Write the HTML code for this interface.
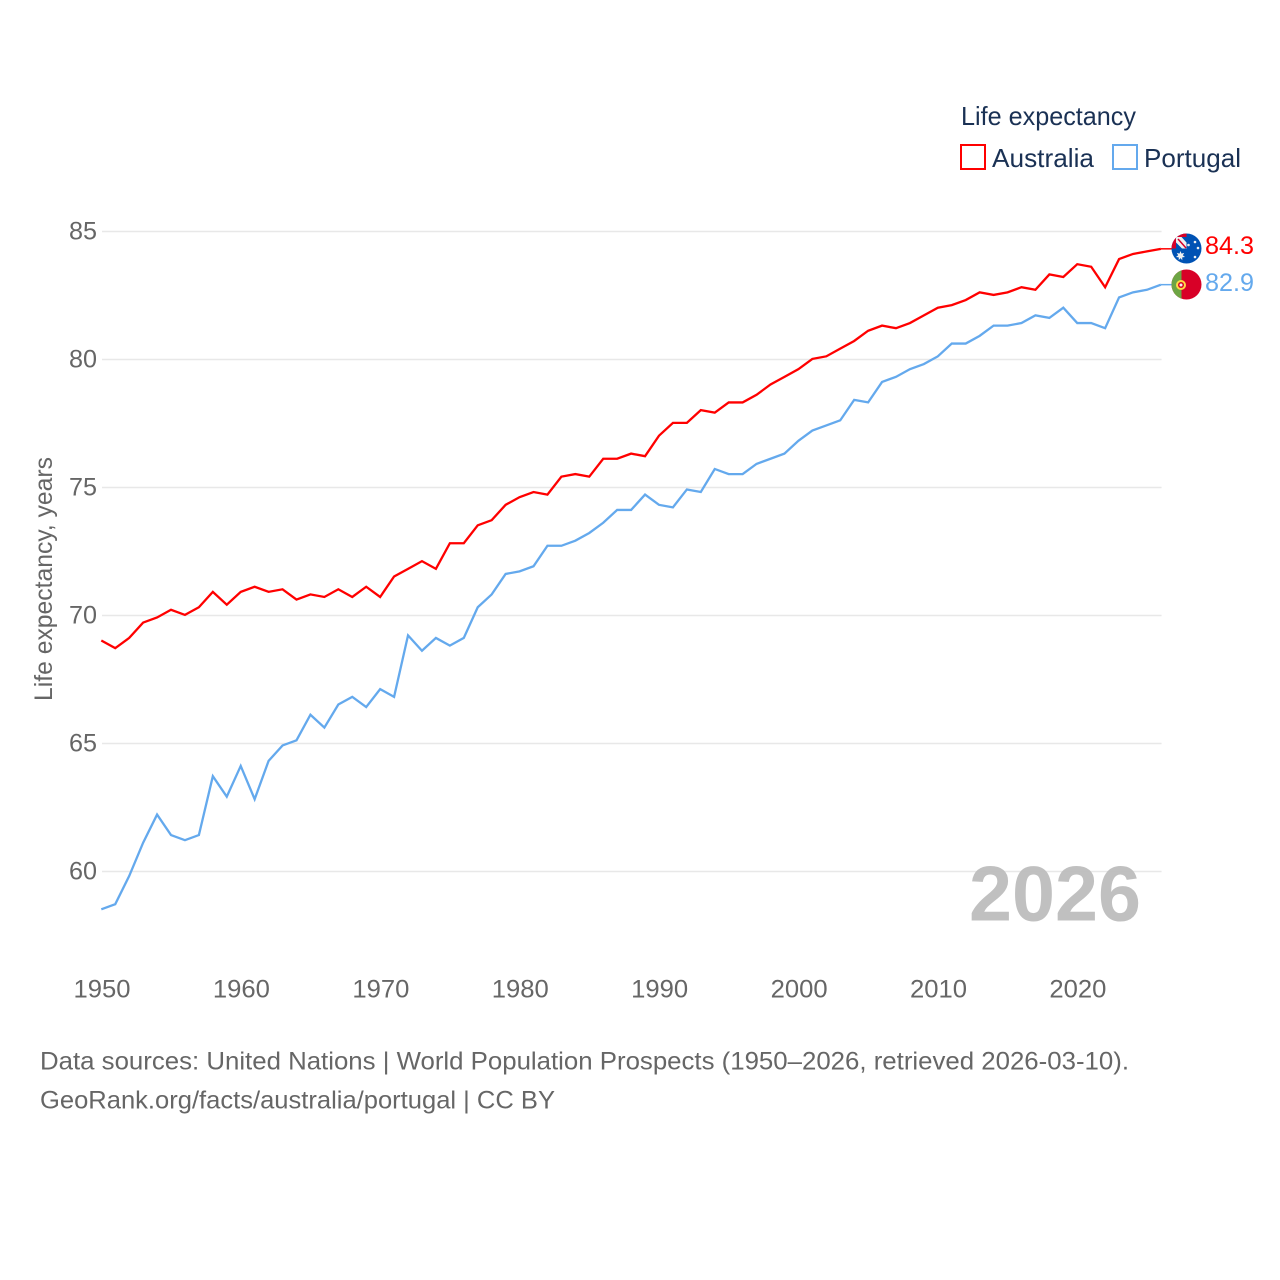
<!DOCTYPE html>
<html lang="en">
<head>
<meta charset="utf-8">
<title>Life expectancy: Australia and Portugal</title>
<style>
html,body{margin:0;padding:0;background:#fff}
svg{display:block}
text{font-family:"Liberation Sans",sans-serif}
</style>
</head>
<body>
<svg id="chart" xmlns="http://www.w3.org/2000/svg" width="1280" height="1280" viewBox="0 0 1280 1280">
  <rect x="0" y="0" width="1280" height="1280" fill="#ffffff"/>
  <g id="grid"></g>
  <g id="yticks"></g>
  <g id="xticks"></g>
  <text transform="translate(52,701) rotate(-90)" font-size="25" fill="#666666" textLength="244" lengthAdjust="spacingAndGlyphs">Life expectancy, years</text>
  <text x="969" y="920.5" font-size="78" font-weight="700" fill="#bdbdbd" fill-opacity="0.95" textLength="172" lengthAdjust="spacingAndGlyphs">2026</text>
  <g id="series"></g>

  <g>
    <text x="961" y="125" font-size="26" fill="#1a3154" textLength="175" lengthAdjust="spacingAndGlyphs">Life expectancy</text>
    <g>
      <rect x="961" y="145" width="24" height="24" fill="none" stroke="#ff0000" stroke-width="2"/>
      <text x="992" y="167" font-size="26" fill="#1a3154" textLength="102" lengthAdjust="spacingAndGlyphs">Australia</text>
    </g>
    <g>
      <rect x="1113" y="145" width="24" height="24" fill="none" stroke="#64a9ed" stroke-width="2"/>
      <text x="1144" y="167" font-size="26" fill="#1a3154" textLength="97" lengthAdjust="spacingAndGlyphs">Portugal</text>
    </g>
  </g>

  <defs>
    <clipPath id="clip-au"><circle cx="1186.5" cy="248.5" r="15"/></clipPath>
    <clipPath id="clip-pt"><circle cx="1186.5" cy="284.5" r="15"/></clipPath>
  </defs>
  <g clip-path="url(#clip-au)">
    <rect x="1171" y="233" width="31" height="31" fill="#0052b4"/>
    <rect x="1171" y="233" width="15.5" height="15.5" fill="#d80027"/>
    <rect x="1176" y="237" width="10.5" height="11.5" fill="#f0f0f0"/>
    <path d="M1176 242.500L1176 248.500L1182 248.500Z" fill="#0052b4"/>
    <path d="M1181.500 237L1186.500 237L1186.500 242.500Z" fill="#0052b4"/>
    <path d="M1178 239l8 9" stroke="#d80027" stroke-width="1.500" fill="none"/>
    <path d="M1180.500 251l1 2.600 2.700-.7-1.400 2.400 2.200 1.700-2.800.4.100 2.800-1.800-2.100-1.800 2.100.100-2.800-2.800-.4 2.200-1.700-1.400-2.400 2.700.7z" fill="#f0f0f0"/>
    <circle cx="1195" cy="242" r="1.300" fill="#f0f0f0"/>
    <circle cx="1188.500" cy="245" r="1.300" fill="#f0f0f0"/>
    <circle cx="1198" cy="248" r="1.300" fill="#f0f0f0"/>
    <circle cx="1195" cy="257" r="1.300" fill="#f0f0f0"/>
  </g>
  <g clip-path="url(#clip-pt)">
    <rect x="1171" y="269" width="31" height="31" fill="#d80027"/>
    <rect x="1171" y="269" width="10.500" height="31" fill="#6da544"/>
    <circle cx="1181" cy="285" r="5" fill="#ffda44"/>
    <circle cx="1181" cy="285" r="3" fill="#d80027"/>
    <circle cx="1181" cy="285" r="1.500" fill="#f0f0f0"/>
  </g>

  <text x="1205" y="254" font-size="25" fill="#ff0000" textLength="49" lengthAdjust="spacingAndGlyphs">84.3</text>
  <text x="1205" y="291" font-size="25" fill="#64a9ed" textLength="49" lengthAdjust="spacingAndGlyphs">82.9</text>

  <text x="40" y="1069.500" font-size="25" fill="#666666" textLength="1089" lengthAdjust="spacingAndGlyphs">Data sources: United Nations | World Population Prospects (1950–2026, retrieved 2026-03-10).</text>
  <text x="40" y="1108.500" font-size="25" fill="#666666" textLength="515" lengthAdjust="spacingAndGlyphs">GeoRank.org/facts/australia/portugal | CC BY</text>
</svg>
<script>
var years = [1950,1951,1952,1953,1954,1955,1956,1957,1958,1959,1960,1961,1962,1963,1964,1965,1966,1967,1968,1969,1970,1971,1972,1973,1974,1975,1976,1977,1978,1979,1980,1981,1982,1983,1984,1985,1986,1987,1988,1989,1990,1991,1992,1993,1994,1995,1996,1997,1998,1999,2000,2001,2002,2003,2004,2005,2006,2007,2008,2009,2010,2011,2012,2013,2014,2015,2016,2017,2018,2019,2020,2021,2022,2023,2024,2025,2026];
var australia = [69.0,68.7,69.1,69.7,69.9,70.2,70.0,70.3,70.9,70.4,70.9,71.1,70.9,71.0,70.6,70.8,70.7,71.0,70.7,71.1,70.7,71.5,71.8,72.1,71.8,72.8,72.8,73.5,73.7,74.3,74.6,74.8,74.7,75.4,75.5,75.4,76.1,76.1,76.3,76.2,77.0,77.5,77.5,78.0,77.9,78.3,78.3,78.6,79.0,79.3,79.6,80.0,80.1,80.4,80.7,81.1,81.3,81.2,81.4,81.7,82.0,82.1,82.3,82.6,82.5,82.6,82.8,82.7,83.3,83.2,83.7,83.6,82.8,83.9,84.1,84.2,84.3];
var portugal = [58.5,58.7,59.8,61.1,62.2,61.4,61.2,61.4,63.7,62.9,64.1,62.8,64.3,64.9,65.1,66.1,65.6,66.5,66.8,66.4,67.1,66.8,69.2,68.6,69.1,68.8,69.1,70.3,70.8,71.6,71.7,71.9,72.7,72.7,72.9,73.2,73.6,74.1,74.1,74.7,74.3,74.2,74.9,74.8,75.7,75.5,75.5,75.9,76.1,76.3,76.8,77.2,77.4,77.6,78.4,78.3,79.1,79.3,79.6,79.8,80.1,80.6,80.6,80.9,81.3,81.3,81.4,81.7,81.6,82.0,81.4,81.4,81.2,82.4,82.6,82.7,82.9];
var yTickValues = [60,65,70,75,80,85];
var xTickValues = [1950,1960,1970,1980,1990,2000,2010,2020];

var NS = 'http://www.w3.org/2000/svg';
function xScale(year){ return 102 + (year - 1950) * (1161.6 - 102) / 76; }
function yScale(v){ return 231.5 + (85 - v) * 25.6; }
function make(tag, attrs, parent){
  var el = document.createElementNS(NS, tag);
  for (var k in attrs) el.setAttribute(k, attrs[k]);
  parent.appendChild(el);
  return el;
}
var gridG = document.getElementById('grid');
var yG = document.getElementById('yticks');
var xG = document.getElementById('xticks');
var seriesG = document.getElementById('series');

yTickValues.forEach(function(v){
  var line = make('line', {x1:102, x2:1161.6, y1:yScale(v), y2:yScale(v), stroke:'#e8e8e8', 'stroke-width':1.5}, gridG);
  
  
  var t = make('text', {x:69, y:yScale(v) + 8, 'font-size':25, fill:'#666666', textLength:28, lengthAdjust:'spacingAndGlyphs'}, yG);
  t.textContent = String(v);
  
  
});
xTickValues.forEach(function(y){
  var t = make('text', {x:xScale(y) - 28.5, y:997.5, 'font-size':25, fill:'#666666', textLength:57, lengthAdjust:'spacingAndGlyphs'}, xG);
  t.textContent = String(y);
  
  
});
function drawSeries(values, color, name){
  var pts = values.map(function(v, i){ return (xScale(years[i]) - 0.7).toFixed(2) + ',' + (yScale(v) - 0.6).toFixed(2); });
  var last = values[values.length - 1];
  var p = make('polyline', {points:pts.join(' '), fill:'none', stroke:color, 'stroke-width':2.3, 'stroke-linejoin':'miter'}, seriesG);
  
  
  var c = make('line', {x1:xScale(years[years.length - 1]) - 0.7, x2:1172, y1:yScale(last) - 0.6, y2:yScale(last) - 0.6, stroke:color, 'stroke-width':1.5}, seriesG);
  
  
}
drawSeries(australia, '#ff0000', 'australia');
drawSeries(portugal, '#64a9ed', 'portugal');
</script>
</body>
</html>
